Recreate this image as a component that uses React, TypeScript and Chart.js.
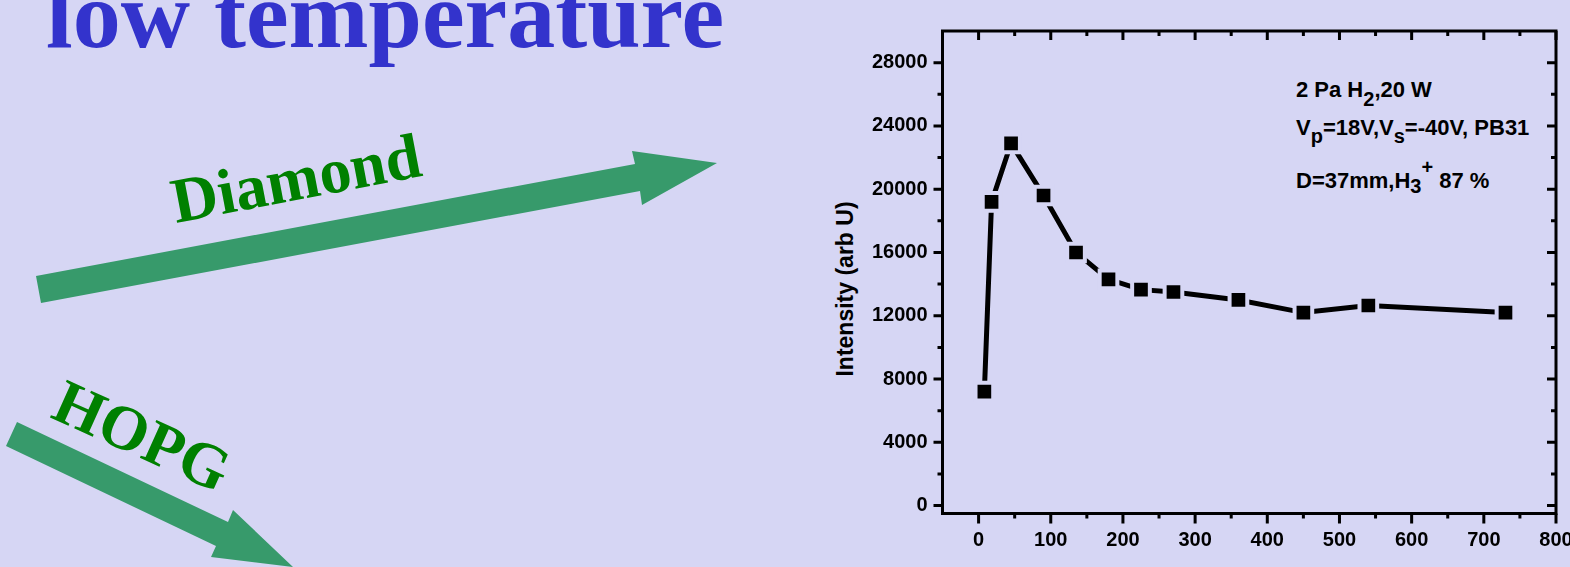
import React, { useEffect, useRef } from "react";
import { Chart, registerables } from "chart.js";

Chart.register(...registerables);

const BG = "#d6d6f4";

// Data
const xValues = [8, 18, 45, 90, 135, 180, 225, 270, 360, 450, 540, 730];
const yValues = [7200, 19200, 22900, 19600, 16000, 14300, 13650, 13500, 13000, 12200, 12650, 12200];

// Axis ticks
const xTicks = [0, 100, 200, 300, 400, 500, 600, 700, 800];
const xTickLabels = ["0", "100", "200", "300", "400", "500", "600", "700", "800"];
const xMinorTicks = [50, 150, 250, 350, 450, 550, 650, 750];
const yTicks = [0, 4000, 8000, 12000, 16000, 20000, 24000, 28000];
const yTickLabels = ["0", "4000", "8000", "12000", "16000", "20000", "24000", "28000"];
const yMinorTicks = [2000, 6000, 10000, 14000, 18000, 22000, 26000];

const X_MIN = -50;
const X_MAX = 800;
const Y_MIN = -500;
const Y_MAX = 30000;

const yAxisTitle = "Intensity (arb U)";

const framePlugin = {
  id: "originFrame",
  afterDraw(chart: any) {
    const { ctx, chartArea } = chart;
    const { left, right, top, bottom } = chartArea;
    const xs = chart.scales.x;
    const ys = chart.scales.y;
    ctx.save();
    ctx.strokeStyle = "#000";
    ctx.lineWidth = 3;
    ctx.lineCap = "butt";
    ctx.beginPath();
    ctx.rect(left, top, right - left, bottom - top);
    ctx.stroke();
    ctx.beginPath();
    const MAJ = 9;
    const MIN = 5;
    xTicks.forEach((v) => {
      const p = xs.getPixelForValue(v);
      ctx.moveTo(p, bottom);
      ctx.lineTo(p, bottom + MAJ + 1);
      ctx.moveTo(p, top);
      ctx.lineTo(p, top + MAJ);
    });
    xMinorTicks.forEach((v) => {
      const p = xs.getPixelForValue(v);
      ctx.moveTo(p, bottom);
      ctx.lineTo(p, bottom + MIN);
      ctx.moveTo(p, top);
      ctx.lineTo(p, top + MIN);
    });
    yTicks.forEach((v) => {
      const p = ys.getPixelForValue(v);
      ctx.moveTo(left, p);
      ctx.lineTo(left - MAJ, p);
      ctx.moveTo(right, p);
      ctx.lineTo(right - MAJ, p);
    });
    yMinorTicks.forEach((v) => {
      const p = ys.getPixelForValue(v);
      ctx.moveTo(left, p);
      ctx.lineTo(left - MIN, p);
      ctx.moveTo(right, p);
      ctx.lineTo(right - MIN, p);
    });
    ctx.stroke();
    ctx.restore();
  },
};

export default function App() {
  const canvasRef = useRef<HTMLCanvasElement | null>(null);

  useEffect(() => {
    if (!canvasRef.current) return;
    const tickFont = { family: "'Liberation Sans', Arial, sans-serif", size: 20, weight: "bold" as const };
    const chart = new Chart(canvasRef.current, {
      type: "line",
      data: {
        datasets: [
          {
            data: xValues.map((x, i) => ({ x, y: yValues[i] })),
            borderColor: "#000",
            borderWidth: 5,
            pointStyle: "rect",
            pointRadius: 12.5,
            pointHoverRadius: 12.5,
            pointBackgroundColor: "#000",
            pointBorderColor: BG,
            pointBorderWidth: 4,
            tension: 0,
            fill: false,
          },
        ],
      },
      options: {
        animation: false,
        responsive: false,
        devicePixelRatio: 1,
        events: [],
        layout: { padding: { top: 31, right: 24, bottom: 0, left: 0 } },
        plugins: { legend: { display: false }, tooltip: { enabled: false }, title: { display: false } },
        scales: {
          x: {
            type: "linear",
            min: X_MIN,
            max: X_MAX,
            grid: { display: false, drawTicks: false },
            border: { display: false },
            afterBuildTicks: (s: any) => {
              s.ticks = xTicks.map((v) => ({ value: v }));
            },
            afterFit: (s: any) => {
              s.height = 53.5;
              s.paddingLeft = 0;
              s.paddingRight = 0;
            },
            ticks: {
              color: "#000",
              font: tickFont,
              padding: 15,
              maxRotation: 0,
              autoSkip: false,
              callback: (_v: any, i: number) => xTickLabels[i],
            },
          },
          y: {
            type: "linear",
            min: Y_MIN,
            max: Y_MAX,
            grid: { display: false, drawTicks: false },
            border: { display: false },
            afterBuildTicks: (s: any) => {
              s.ticks = yTicks.map((v) => ({ value: v }));
            },
            afterFit: (s: any) => {
              s.width = 122.5;
              s.paddingTop = 0;
              s.paddingBottom = 0;
            },
            ticks: {
              color: "#000",
              font: tickFont,
              padding: 15,
              autoSkip: false,
              callback: (_v: any, i: number) => yTickLabels[i],
            },
          },
        },
      },
      plugins: [framePlugin],
    });
    return () => chart.destroy();
  }, []);

  const serif = "'Liberation Serif', 'Times New Roman', serif";
  const sans = "'Liberation Sans', Arial, sans-serif";

  return (
    <div
      style={{
        position: "fixed",
        left: 0,
        top: 0,
        width: 1570,
        height: 567,
        overflow: "hidden",
        background: BG,
      }}
    >
      <svg
        width={1570}
        height={567}
        style={{ position: "absolute", left: 0, top: 0 }}
      >
        <text x={46} y={47} fontFamily={serif} fontWeight="bold" fontSize={96} fill="#3333cc">
          low temperature
        </text>
        <polygon
          points="36,276 635,164 632,151 717,163 642,205 640,191 41,303"
          fill="#379a6b"
        />
        <text
          x={176}
          y={223}
          fontFamily={serif}
          fontWeight="bold"
          fontSize={64}
          fill="#008000"
          transform="rotate(-10.8 176 223)"
        >
          Diamond
        </text>
        <polygon
          points="17,422 228,522 233,510 293,567 211,557 216,546 6,446"
          fill="#379a6b"
        />
        <text
          x={49}
          y={417}
          fontFamily={serif}
          fontWeight="bold"
          fontSize={63}
          fill="#008000"
          transform="rotate(24.2 49 417)"
        >
          HOPG
        </text>
        <text
          transform="translate(853,289) rotate(-90)"
          textAnchor="middle"
          fontFamily={sans}
          fontWeight="bold"
          fontSize={23}
          fill="#000"
        >
          {yAxisTitle}
        </text>
        <text x={1296} y={97} fontFamily={sans} fontWeight="bold" fontSize={22} fill="#000">
          2 Pa H<tspan fontSize={20} dy={9}>2</tspan>
          <tspan dy={-9}>,20 W</tspan>
        </text>
        <text x={1296} y={135} fontFamily={sans} fontWeight="bold" fontSize={22} fill="#000">
          V<tspan fontSize={20} dy={8}>p</tspan>
          <tspan dy={-8}>=18V,V</tspan>
          <tspan fontSize={20} dy={8}>s</tspan>
          <tspan dy={-8}>=-40V, PB31</tspan>
        </text>
        <text x={1296} y={188} fontFamily={sans} fontWeight="bold" fontSize={22} fill="#000">
          D=37mm,H<tspan fontSize={20} dy={5}>3</tspan>
          <tspan fontSize={20} dy={-19}>+</tspan>
          <tspan dy={14}> 87 %</tspan>
        </text>
      </svg>
      <canvas
        ref={canvasRef}
        width={760}
        height={567}
        style={{ position: "absolute", left: 820, top: 0, width: 760, height: 567, display: "block" }}
      />
    </div>
  );
}
